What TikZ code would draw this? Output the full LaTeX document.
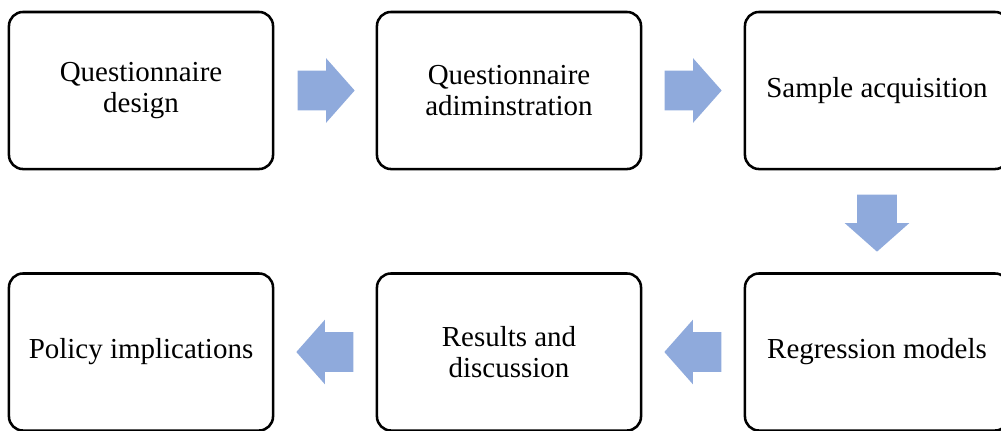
\documentclass[tikz,border=0pt]{standalone}
\usepackage{fontspec}
\setmainfont{Liberation Serif}
\usepackage{tikz}
\usetikzlibrary{shapes.arrows, calc}
\definecolor{arrowblue}{HTML}{8FAADC}

\begin{document}
\begin{tikzpicture}[x=0.025cm, y=-0.025cm,
  stagebox/.style={draw, line width=1.8pt, rounded corners=0.35cm,
    minimum width=6.6cm, minimum height=3.925cm, align=center,
    font=\fontsize{20.6}{21.5}\selectfont},
  flowarrow/.style={single arrow, fill=arrowblue, draw=none, anchor=tail,
    inner sep=0.4875cm, minimum height=1.4cm,
    minimum width=1.6cm, single arrow head extend=0.3125cm,
    single arrow tip angle=97}]
  \clip (0,0) rectangle (1001,430);

  \node[stagebox] (design) at (141,90.5) {Questionnaire\\design};
  \node[stagebox] (admin) at (509,90.5) {Questionnaire\\adiminstration};
  \node[stagebox] (sample) at (877,90.5) {Sample acquisition};

  \node[stagebox] (policy) at (141,352) {Policy implications};
  \node[stagebox] (results) at (509,352) {Results and\\discussion};
  \node[stagebox] (models) at (877,352) {Regression models};

  \node[flowarrow] (a1) at ($(design.east)+(23,0)$) {};
  \node[flowarrow] (a2) at ($(admin.east)+(22,0)$) {};
  \node[flowarrow, shape border rotate=270] (a3) at ($(sample.south)+(0,24)$) {};
  \node[flowarrow, shape border rotate=180] (a4) at ($(models.west)+(-22,0)$) {};
  \node[flowarrow, shape border rotate=180] (a5) at ($(results.west)+(-22,0)$) {};
\end{tikzpicture}
\end{document}
